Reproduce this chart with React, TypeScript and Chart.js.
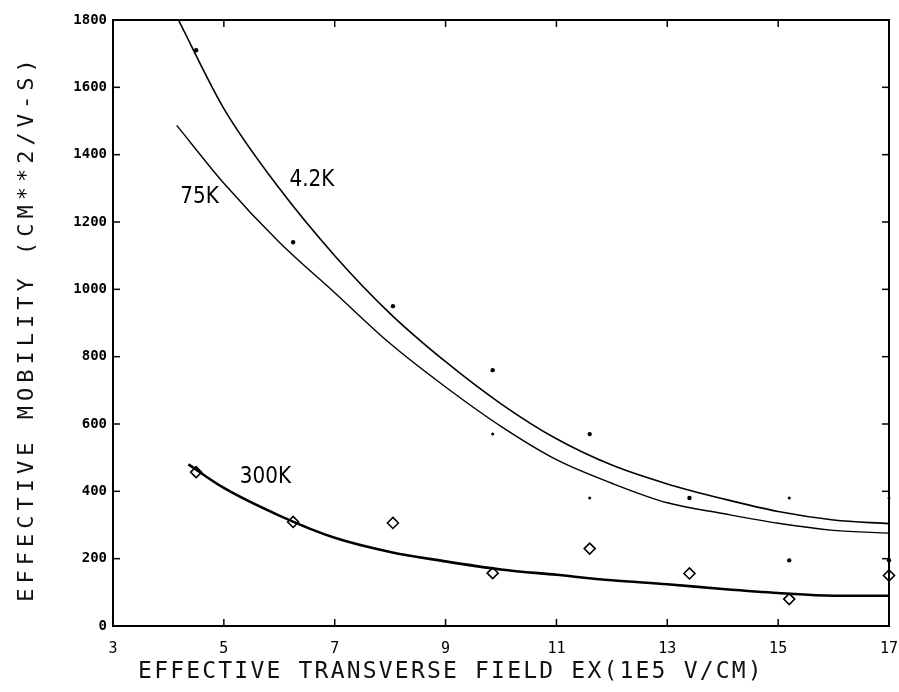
import React, { useEffect, useRef } from "react";
import { Chart, registerables } from "chart.js";

Chart.register(...registerables);

// ---- axis ticks ----
const xTicks = [3, 5, 7, 9, 11, 13, 15, 17];
const yTicks = [0, 200, 400, 600, 800, 1000, 1200, 1400, 1600, 1800];

// ---- fitted curves ----
const curve42X = [4.18, 5, 6, 7, 8, 9, 10, 11, 12, 13, 14, 15, 16, 17];
const curve42Y = [1800, 1537, 1300, 1100, 928, 785, 660, 556, 478, 422, 378, 340, 315, 304];

const curve75X = [4.15, 5, 6, 7, 8, 9, 10, 11, 12, 13, 14, 15, 16, 17];
const curve75Y = [1487, 1315, 1140, 990, 839, 710, 593, 494, 424, 366, 334, 305, 284, 276];

const curve300X = [4.36, 5, 6, 7, 8, 9, 10, 11, 12, 13, 14, 15, 16, 17];
const curve300Y = [480, 410, 328, 262, 220, 192, 168, 152, 136, 124, 110, 98, 90, 90];

// ---- measured points ----
const bigDotX = [4.5, 6.25, 8.05, 9.85, 11.6, 13.4, 15.2, 17];
const bigDotY = [1710, 1140, 950, 760, 570, 380, 195, 195];
const smallDotX = [9.85, 11.6, 15.2, 17];
const smallDotY = [570, 380, 380, 380];
const diamondX = [4.5, 6.25, 8.05, 9.85, 11.6, 13.4, 15.2, 17];
const diamondY = [457, 309, 306, 157, 230, 156, 80, 150];

// ---- text ----
const curveLabels = ["4.2K", "75K", "300K"];
const curveLabelX = [6.59, 4.56, 5.75];
const curveLabelY = [1324, 1273, 442];
const xTitle = "EFFECTIVE TRANSVERSE FIELD EX(1E5 V/CM)";
const yTitle = "EFFECTIVE MOBILITY (CM**2/V-S)";

const pts = (xs: number[], ys: number[]) => xs.map((x, i) => ({ x, y: ys[i] }));

const framePlugin = {
  id: "frame",
  afterDraw(chart: any) {
    const { ctx, chartArea: a, scales } = chart;
    ctx.save();
    ctx.strokeStyle = "#000";
    ctx.lineWidth = 2;
    ctx.strokeRect(a.left, a.top, a.right - a.left, a.bottom - a.top);
    const tl = 7;
    ctx.lineWidth = 1.5;
    const line = (x1: number, y1: number, x2: number, y2: number) => {
      ctx.beginPath();
      ctx.moveTo(x1, y1);
      ctx.lineTo(x2, y2);
      ctx.stroke();
    };
    xTicks.forEach((v) => {
      const px = scales.x.getPixelForValue(v);
      line(px, a.bottom, px, a.bottom - tl);
      line(px, a.top, px, a.top + tl);
    });
    yTicks.forEach((v) => {
      const py = scales.y.getPixelForValue(v);
      line(a.left, py, a.left + tl, py);
      line(a.right, py, a.right - tl, py);
    });

    // curve labels
    ctx.fillStyle = "#000";
    ctx.textAlign = "center";
    ctx.textBaseline = "middle";
    ctx.font = "20px 'DejaVu Sans'";
    curveLabels.forEach((t, i) => {
      const px = scales.x.getPixelForValue(curveLabelX[i]);
      const py = scales.y.getPixelForValue(curveLabelY[i]);
      ctx.save();
      ctx.translate(px, py);
      ctx.scale(1, 1.12);
      ctx.fillText(t, 0, 0);
      ctx.restore();
    });

    // axis titles
    ctx.fillStyle = "#111";
    ctx.font = "23px 'DejaVu Sans Mono'";
    (ctx as any).letterSpacing = "2.2px";
    ctx.fillText(xTitle, 451, 672);
    ctx.save();
    ctx.translate(27, 328);
    ctx.rotate(-Math.PI / 2);
    (ctx as any).letterSpacing = "5px";
    ctx.font = "22px 'DejaVu Sans Mono'";
    ctx.fillText(yTitle, 0, 0);
    ctx.restore();
    (ctx as any).letterSpacing = "0px";
    ctx.restore();
  },
};

export default function App() {
  const ref = useRef<HTMLCanvasElement | null>(null);
  useEffect(() => {
    if (!ref.current) return;
    const chart = new Chart(ref.current, {
      type: "line",
      data: {
        datasets: [
          {
            label: "4.2K",
            data: pts(curve42X, curve42Y),
            borderColor: "#000",
            borderWidth: 1.6,
            pointRadius: 0,
            cubicInterpolationMode: "monotone",
            fill: false,
          },
          {
            label: "75K",
            data: pts(curve75X, curve75Y),
            borderColor: "#000",
            borderWidth: 1.4,
            pointRadius: 0,
            cubicInterpolationMode: "monotone",
            fill: false,
          },
          {
            label: "300K",
            data: pts(curve300X, curve300Y),
            borderColor: "#000",
            borderWidth: 2.6,
            pointRadius: 0,
            cubicInterpolationMode: "monotone",
            fill: false,
          },
          {
            label: "data A",
            data: pts(bigDotX, bigDotY),
            showLine: false,
            pointRadius: 2.2,
            pointBackgroundColor: "#000",
            pointBorderColor: "#000",
            pointBorderWidth: 0,
            clip: false,
          } as any,
          {
            label: "data B",
            data: pts(smallDotX, smallDotY),
            showLine: false,
            pointRadius: 1.5,
            pointBackgroundColor: "#000",
            pointBorderColor: "#000",
            pointBorderWidth: 0,
            clip: false,
          } as any,
          {
            label: "300K data",
            data: pts(diamondX, diamondY),
            showLine: false,
            pointStyle: "rectRot",
            pointRadius: 5.5,
            pointBackgroundColor: "#fff",
            pointBorderColor: "#000",
            pointBorderWidth: 1.6,
            clip: false,
          } as any,
        ],
      },
      options: {
        animation: false,
        responsive: false,
        events: [],
        layout: { padding: { top: 20, right: 10, bottom: 0, left: 0 } },
        plugins: { legend: { display: false }, tooltip: { enabled: false } },
        scales: {
          x: {
            type: "linear",
            min: 3,
            max: 17,
            grid: { display: false, drawTicks: false },
            border: { display: false },
            afterFit: (s: any) => {
              s.height = 66;
              s.paddingLeft = 0;
              s.paddingRight = 0;
            },
            afterBuildTicks: (s: any) => {
              s.ticks = xTicks.map((v) => ({ value: v }));
            },
            ticks: {
              autoSkip: false,
              maxRotation: 0,
              padding: 14,
              color: "#000",
              font: { family: "'DejaVu Sans Mono'", size: 15 },
              callback: (v: any) => String(v),
            },
          },
          y: {
            type: "linear",
            min: 0,
            max: 1800,
            grid: { display: false, drawTicks: false },
            border: { display: false },
            afterFit: (s: any) => {
              s.width = 113;
              s.paddingTop = 0;
              s.paddingBottom = 0;
            },
            afterBuildTicks: (s: any) => {
              s.ticks = yTicks.map((v) => ({ value: v }));
            },
            ticks: {
              autoSkip: false,
              padding: 6,
              color: "#000",
              font: { family: "'DejaVu Sans Mono'", size: 14, weight: "bold" },
              callback: (v: any) => String(v),
            },
          },
        },
      },
      plugins: [framePlugin],
    } as any);
    return () => chart.destroy();
  }, []);
  return (
    <div style={{ position: "fixed", left: 0, top: 0, width: 899, height: 692, background: "#fff" }}>
      <canvas ref={ref} width={899} height={692} style={{ width: 899, height: 692, display: "block" }} />
    </div>
  );
}
